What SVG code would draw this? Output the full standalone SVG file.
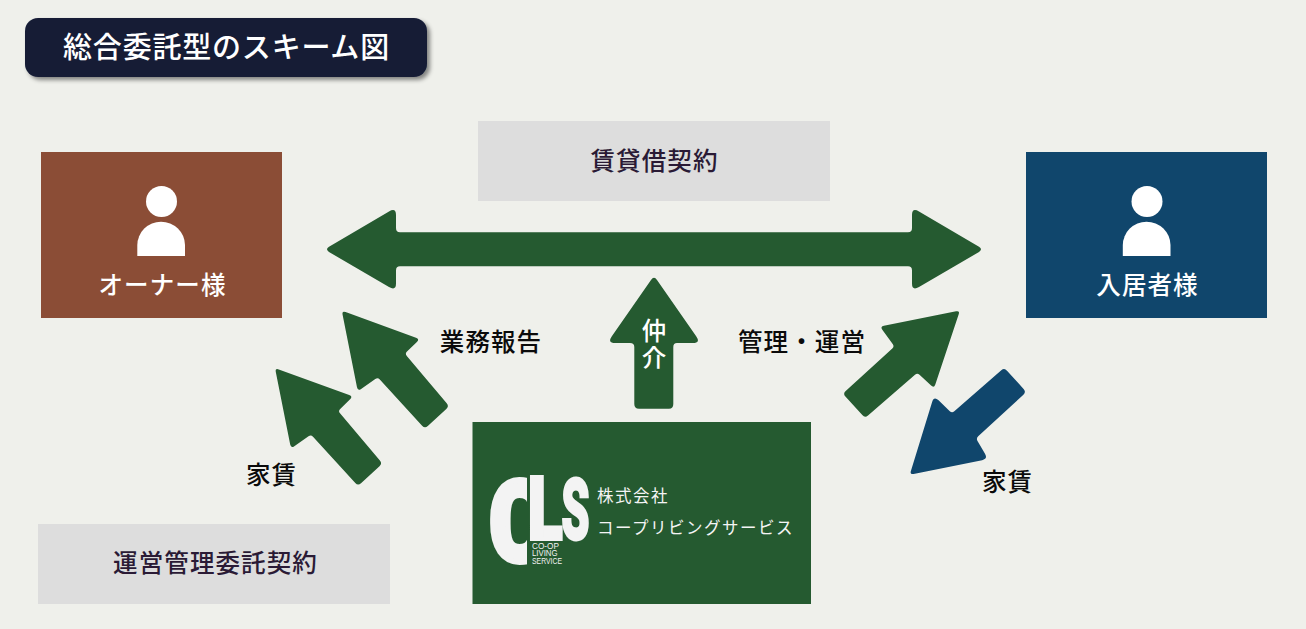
<svg xmlns="http://www.w3.org/2000/svg" width="1306" height="629" viewBox="0 0 1306 629">
<style>
text{font-family:"Noto Sans CJK JP","Noto Sans",sans-serif}
.w{fill:#fff}
.l{font-size:24.500px;letter-spacing:1.100px;font-weight:500;text-anchor:middle}
.k{fill:#0b0b0b}
.p{fill:#2a1a35}
.s{font-size:16.500px;letter-spacing:1.500px;fill:#f4f4f4}
.g{fill:#255a30}
.b{fill:#10466c}
.logo{font-family:Roboto,"Liberation Sans",sans-serif;font-weight:900;fill:#f3f3f3;stroke:#f3f3f3}
.tiny{font-family:"Liberation Sans",sans-serif;font-size:8.500px;fill:#f3f3f3}
</style>
<defs>
<filter id="sh" x="-5%" y="-20%" width="110%" height="150%"><feDropShadow dx="3" dy="3" stdDeviation="2" flood-color="#000" flood-opacity=".45"/></filter>
<path id="diag" d="M278.800 369.400L349.200 395.100Q353 396.500 350.100 399.300L340.200 408.900Q338 411 340 413.300L379.900 460.500Q382.500 463.500 379.500 466.200L361 483.300Q358 486 355.300 483L313 436.700Q311 434.500 308.500 436.200L294.300 446.200Q291 448.500 290.200 444.600L275.800 372Q275 368 278.800 369.400Z"/>
<clipPath id="cclip"><rect x="480" y="470" width="47" height="100"/></clipPath>
</defs>
<rect width="1306" height="629" fill="#eff0eb"/>
<g id="title">
<rect x="25" y="18" width="402" height="59" rx="13" fill="#141b36" filter="url(#sh)"/>
<text x="226.500" y="58" class="w" font-size="29" font-weight="500" letter-spacing=".8" text-anchor="middle">総合委託型のスキーム図</text>
</g>
<g id="owner">
<rect x="41" y="152" width="241" height="166" fill="#8b4d36"/>
<circle cx="161.500" cy="201.500" r="15.500" class="w"/>
<path d="M137.300 256V245A24 23.500 0 0 1 161 221.700A24 23.500 0 0 1 185 245V256Z" class="w"/>
<text x="162.500" y="294" class="l w">オーナー様</text>
</g>
<g id="tenant">
<rect x="1026" y="152" width="241" height="166" fill="#10466c"/>
<circle cx="1147" cy="201.500" r="15.500" class="w"/>
<path d="M1122.800 256V245A24 23.500 0 0 1 1146.500 221.700A24 23.500 0 0 1 1170.500 245V256Z" class="w"/>
<text x="1147.500" y="294" class="l w">入居者様</text>
</g>
<g id="lease">
<rect x="478" y="121" width="352" height="80" fill="#dddddd"/>
<text x="654.500" y="170" class="l p">賃貸借契約</text>
</g>
<g id="mgmt-contract">
<rect x="38" y="524" width="352" height="80" fill="#dddddd"/>
<text x="215.500" y="572" class="l p">運営管理委託契約</text>
</g>
<g id="cls">
<rect x="472.500" y="422" width="338.500" height="182" class="g"/>
<g clip-path="url(#cclip)"><text x="0" y="0" class="logo" font-size="112" stroke-width="6" transform="translate(489.500 560.500) scale(.8 1)">C</text></g>
<text x="0" y="0" class="logo" font-size="88" stroke-width="4" transform="translate(528 539) scale(.72 1)">L</text>
<text x="0" y="0" class="logo" font-size="86" stroke-width="3" transform="translate(561.500 539) scale(.52 1)">S</text>
<text x="532" y="548.500" class="tiny" textLength="27" lengthAdjust="spacingAndGlyphs">CO-OP</text>
<text x="532" y="556.300" class="tiny" textLength="25.500" lengthAdjust="spacingAndGlyphs">LIVING</text>
<text x="532" y="564" class="tiny" textLength="30" lengthAdjust="spacingAndGlyphs">SERVICE</text>
<text x="597" y="502" class="s">株式会社</text>
<text x="597" y="534" class="s">コープリビングサービス</text>
</g>
<g id="connectors">
<path class="g" d="M329 246.700L389 211.500Q396 207.500 396 215V228Q396 232.300 400 232.300H908Q912 232.300 912 228V215Q912 207.500 919 211.500L979 246.700Q983 249.300 979 252L919 287Q912 291 912 283.500V270.500Q912 266.300 908 266.300H400Q396 266.300 396 270.500V283.500Q396 291 389 287L329 252Q325 249.300 329 246.700Z"/>
<path class="g" d="M651 280Q654 275.500 657 280L696 336Q701 343 693 343H677Q673.300 343 673.300 347V404Q673.300 408.700 669 408.700H639Q634.300 408.700 634.300 404V347Q634.300 343 630 343H615Q607 343 612 336Z"/>
<use href="#diag" class="g"/>
<use href="#diag" class="g" transform="translate(66.800 -57.300)"/>
<path class="g" d="M956.100 311.300L883.900 325.700Q880 326.500 882.300 329.700L892.700 344.100Q894.500 346.500 892.300 348.500L845.700 391Q842.700 393.700 845.400 396.600L862.300 415.100Q865 418 868 415.400L915 374.700Q917.300 372.700 919.500 374.700L931.100 385.600Q934 388.300 935.300 384.500L958.700 314.300Q960 310.500 956.100 311.300Z"/>
<path class="b" d="M913.600 473.900L982.100 460.200Q988 459 985 453.800L977.500 440.900Q976 438.300 978.200 436.300L1023.400 394.700Q1026.300 392 1023.600 389L1007 370.700Q1004.300 367.700 1001.300 370.300L954.300 411.300Q952 413.300 949.800 411.200L938.300 400.100Q934 396 932.200 401.700L910.900 470.900Q909.700 474.700 913.600 473.900Z"/>
</g>
<g id="labels">
<text x="654" y="340" class="l w" style="letter-spacing:0">仲</text>
<text x="654" y="367" class="l w" style="letter-spacing:0">介</text>
<text x="491" y="351" class="l k">業務報告</text>
<text x="802" y="351" class="l k">管理・運営</text>
<text x="271.500" y="484" class="l k">家賃</text>
<text x="1007.500" y="491" class="l k">家賃</text>
</g>
</svg>
